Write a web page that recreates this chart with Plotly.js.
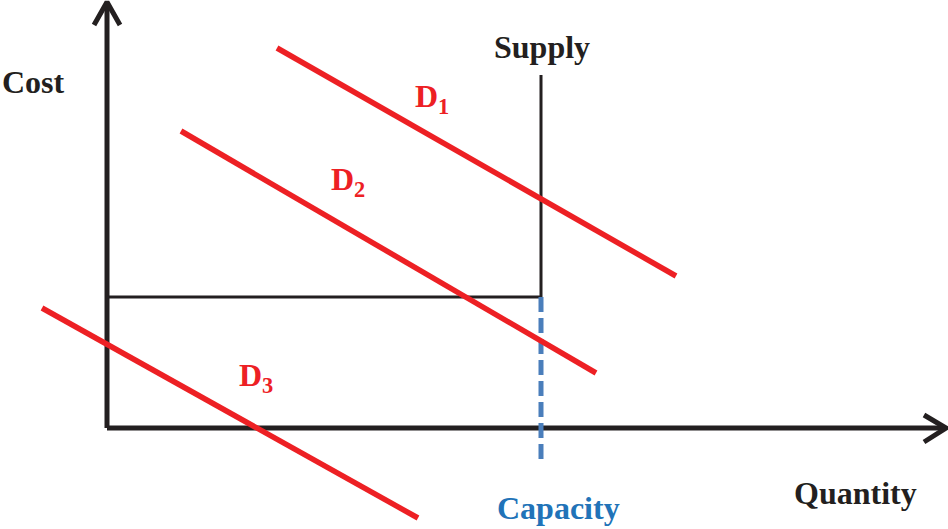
<!DOCTYPE html>
<html>
<head>
<meta charset="utf-8">
<script src="https://cdn.plot.ly/plotly-3.0.1.min.js"></script>
<style>html,body{margin:0;padding:0;background:#fff;}#chart{width:948px;height:529px;}</style>
</head>
<body>
<div id="chart"></div>
<script>
// Data coordinates: origin at the axes corner, x = quantity, y = cost
const demandNames = ["D1", "D2", "D3"];
const d1X = [170, 569];
const d1Y = [380, 152];
const d2X = [74, 489];
const d2Y = [297, 55];
const d3X = [-65, 311];
const d3Y = [120, -90];

const capacity = 434;
const supplyFloor = 131;
const supplyTop = 353;
const supplyX = [0, capacity, capacity];
const supplyY = [supplyFloor, supplyFloor, supplyTop];
const capacityX = [capacity, capacity];
const capacityY = [supplyFloor, -32];

const yAxisX = [0, 0];
const yAxisY = [0, 425];
const yArrowX = [-13, 0, 13];
const yArrowY = [403, 426, 403];
const xAxisX = [0, 838];
const xAxisY = [0, 0];
const xArrowX = [817, 839, 817];
const xArrowY = [13, 0, -14];

const labelTexts = ["Cost", "Quantity", "Supply", "Capacity", "D<sub>1</sub>", "D<sub>2</sub>", "D<sub>3</sub>"];
const labelX = [-74, 748, 435, 451, 325, 241, 149];
const labelY = [346, -65, 381, -80, 330, 247, 51];

const RED = "#ed2024", BLACK = "#231f20", BLUE = "#4a7ebb";

function line(x, y, color, width, dash) {
  return {x: x, y: y, mode: "lines", type: "scatter", hoverinfo: "skip",
    line: {color: color, width: width, dash: dash || "solid"}, showlegend: false};
}

const traces = [
  line(yAxisX, yAxisY, BLACK, 5),
  line(yArrowX, yArrowY, BLACK, 5),
  line(xAxisX, xAxisY, BLACK, 5),
  line(xArrowX, xArrowY, BLACK, 5),
  line(supplyX, supplyY, BLACK, 3),
  line(capacityX, capacityY, BLUE, 5, "15px,6px"),
  line(d1X, d1Y, RED, 5.5),
  line(d2X, d2Y, RED, 5.5),
  line(d3X, d3Y, RED, 5.5)
];

const labelColors = [BLACK, BLACK, BLACK, "#2173b8", RED, RED, RED];
const annotations = labelTexts.map((t, i) => ({
  x: labelX[i], y: labelY[i], text: "<b>" + t + "</b>", showarrow: false,
  xanchor: "center", yanchor: "middle",
  font: {family: "Liberation Serif, Times New Roman, serif", size: 32, color: labelColors[i]}
}));

const layout = {
  width: 948, height: 529,
  margin: {l: 0, r: 0, t: 0, b: 0},
  paper_bgcolor: "#fff", plot_bgcolor: "#fff",
  xaxis: {range: [-107, 841], visible: false, fixedrange: true},
  yaxis: {range: [-101, 428], visible: false, fixedrange: true},
  annotations: annotations,
  showlegend: false
};

Plotly.newPlot("chart", traces, layout, {displayModeBar: false, staticPlot: true});
</script>
</body>
</html>
